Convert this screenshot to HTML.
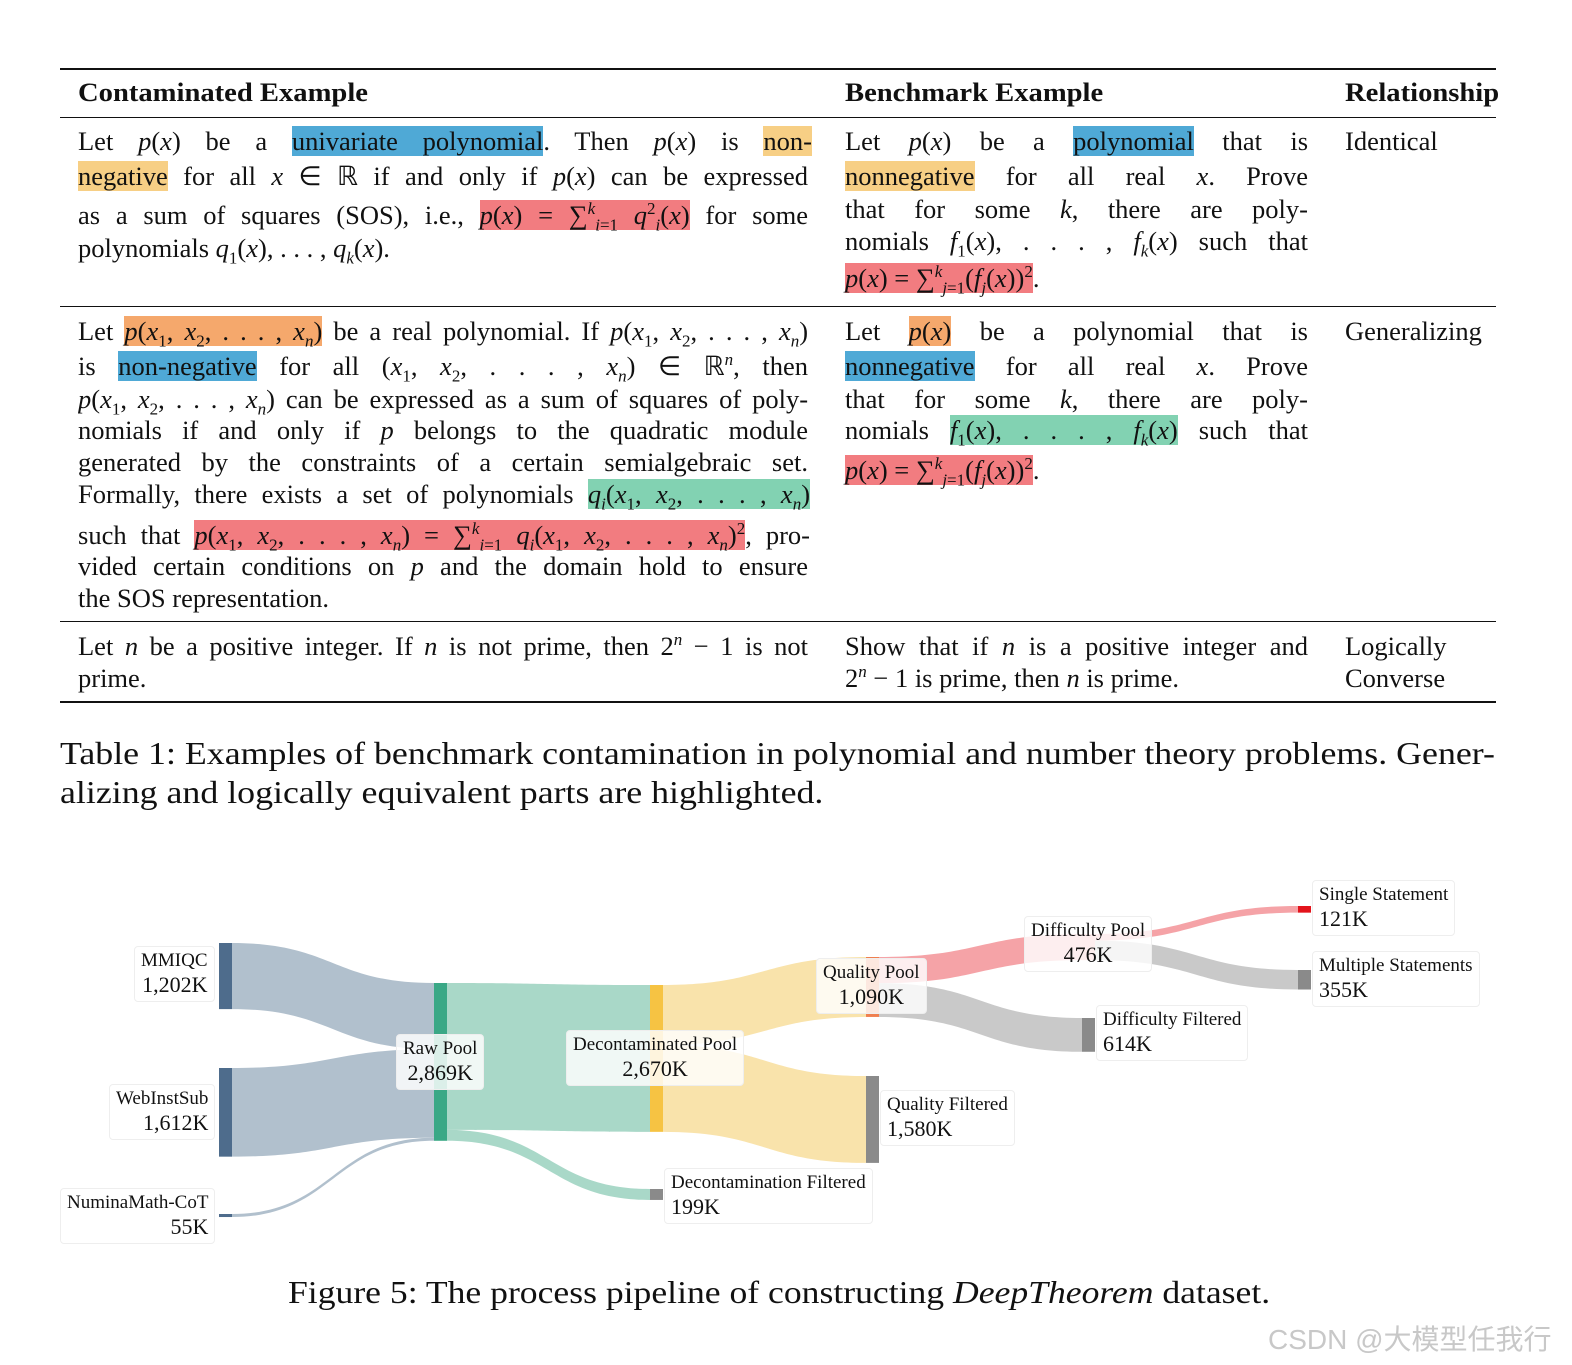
<!DOCTYPE html>
<html><head><meta charset="utf-8">
<style>
body{margin:0;background:#fff;}
#page{position:relative;width:1572px;height:1365px;overflow:hidden;background:#fff;font-family:"Liberation Serif",serif;color:#111;}
.rule{position:absolute;left:60px;width:1436px;background:#111;}
.ln{position:absolute;font-size:26.5px;line-height:34px;height:34px;white-space:nowrap;}
.j{text-align:justify;text-align-last:justify;white-space:normal;overflow:hidden;}
.h{position:absolute;font-size:26px;font-weight:bold;line-height:34px;transform:scaleX(1.1);transform-origin:left;white-space:nowrap;}
i{font-style:italic;}
.b{background:#4fa9d6;} .y{background:#f7cf85;} .r{background:#f27c80;} .o{background:#f5a86c;} .g{background:#82d2b2;}
sub,sup{font-size:17px;line-height:0;}
.cap{position:absolute;font-size:32px;line-height:40px;white-space:nowrap;transform-origin:left;}
.lab{position:absolute;background:rgba(255,255,255,0.82);border:1px solid #eee;border-radius:4px;font-size:19px;line-height:24px;padding:2px 6px;white-space:nowrap;}
.lab b{font-weight:normal;font-size:22px;}
</style></head>
<body>
<div id="page">
<div class="rule" style="top:68px;height:2px"></div>
<div class="rule" style="top:117px;height:1px"></div>
<div class="rule" style="top:306px;height:1px"></div>
<div class="rule" style="top:621px;height:1px"></div>
<div class="rule" style="top:701px;height:2px"></div>

<div class="h" style="left:78px;top:76px">Contaminated Example</div>
<div class="h" style="left:845px;top:76px">Benchmark Example</div>
<div class="h" style="left:1345px;top:76px">Relationship</div>

<!-- Row 1 -->
<div>
<div class="ln j" style="left:78px;top:124px;width:734px">Let <i>p</i>(<i>x</i>) be a <span class="b">univariate polynomial</span>. Then <i>p</i>(<i>x</i>) is <span class="y">non-</span></div>
<div class="ln j" style="left:78px;top:159px;width:730px"><span class="y">negative</span> for all <i>x</i> ∈ ℝ if and only if <i>p</i>(<i>x</i>) can be expressed</div>
<div class="ln j" style="left:78px;top:198px;width:730px">as a sum of squares (SOS), i.e., <span class="r"><i>p</i>(<i>x</i>) = ∑<sup><i>k</i></sup><sub><i>i</i>=1</sub> <i>q</i><sup>2</sup><sub><i>i</i></sub>(<i>x</i>)</span> for some</div>
<div class="ln" style="left:78px;top:231px">polynomials <i>q</i><sub>1</sub>(<i>x</i>), . . . , <i>q<sub>k</sub></i>(<i>x</i>).</div>
</div>
<div>
<div class="ln j" style="left:845px;top:124px;width:463px">Let <i>p</i>(<i>x</i>) be a <span class="b">polynomial</span> that is</div>
<div class="ln j" style="left:845px;top:159px;width:463px"><span class="y">nonnegative</span> for all real <i>x</i>. Prove</div>
<div class="ln j" style="left:845px;top:192px;width:463px">that for some <i>k</i>, there are poly-</div>
<div class="ln j" style="left:845px;top:224px;width:463px">nomials <i>f</i><sub>1</sub>(<i>x</i>), . . . , <i>f<sub>k</sub></i>(<i>x</i>) such that</div>
<div class="ln" style="left:845px;top:261px"><span class="r"><i>p</i>(<i>x</i>) = ∑<sup><i>k</i></sup><sub><i>j</i>=1</sub>(<i>f<sub>j</sub></i>(<i>x</i>))<sup>2</sup></span>.</div>
</div>
<div class="ln" style="left:1345px;top:124px">Identical</div>

<!-- Row 2 -->
<div>
<div class="ln j" style="left:78px;top:314px;width:730px">Let <span class="o"><i>p</i>(<i>x</i><sub>1</sub>, <i>x</i><sub>2</sub>, . . . , <i>x<sub>n</sub></i>)</span> be a real polynomial. If <i>p</i>(<i>x</i><sub>1</sub>, <i>x</i><sub>2</sub>, . . . , <i>x<sub>n</sub></i>)</div>
<div class="ln j" style="left:78px;top:349px;width:730px">is <span class="b">non-negative</span> for all (<i>x</i><sub>1</sub>, <i>x</i><sub>2</sub>, . . . , <i>x<sub>n</sub></i>) ∈ ℝ<sup><i>n</i></sup>, then</div>
<div class="ln j" style="left:78px;top:382px;width:730px"><i>p</i>(<i>x</i><sub>1</sub>, <i>x</i><sub>2</sub>, . . . , <i>x<sub>n</sub></i>) can be expressed as a sum of squares of poly-</div>
<div class="ln j" style="left:78px;top:413px;width:730px">nomials if and only if <i>p</i> belongs to the quadratic module</div>
<div class="ln j" style="left:78px;top:445px;width:730px">generated by the constraints of a certain semialgebraic set.</div>
<div class="ln j" style="left:78px;top:477px;width:732px">Formally, there exists a set of polynomials <span class="g"><i>q<sub>i</sub></i>(<i>x</i><sub>1</sub>, <i>x</i><sub>2</sub>, . . . , <i>x<sub>n</sub></i>)</span></div>
<div class="ln j" style="left:78px;top:518px;width:732px">such that <span class="r"><i>p</i>(<i>x</i><sub>1</sub>, <i>x</i><sub>2</sub>, . . . , <i>x<sub>n</sub></i>) = ∑<sup><i>k</i></sup><sub><i>i</i>=1</sub> <i>q<sub>i</sub></i>(<i>x</i><sub>1</sub>, <i>x</i><sub>2</sub>, . . . , <i>x<sub>n</sub></i>)<sup>2</sup></span>, pro-</div>
<div class="ln j" style="left:78px;top:549px;width:730px">vided certain conditions on <i>p</i> and the domain hold to ensure</div>
<div class="ln" style="left:78px;top:581px">the SOS representation.</div>
</div>
<div>
<div class="ln j" style="left:845px;top:314px;width:463px">Let <span class="o"><i>p</i>(<i>x</i>)</span> be a polynomial that is</div>
<div class="ln j" style="left:845px;top:349px;width:463px"><span class="b">nonnegative</span> for all real <i>x</i>. Prove</div>
<div class="ln j" style="left:845px;top:382px;width:463px">that for some <i>k</i>, there are poly-</div>
<div class="ln j" style="left:845px;top:413px;width:463px">nomials <span class="g"><i>f</i><sub>1</sub>(<i>x</i>), . . . , <i>f<sub>k</sub></i>(<i>x</i>)</span> such that</div>
<div class="ln" style="left:845px;top:453px"><span class="r"><i>p</i>(<i>x</i>) = ∑<sup><i>k</i></sup><sub><i>j</i>=1</sub>(<i>f<sub>j</sub></i>(<i>x</i>))<sup>2</sup></span>.</div>
</div>
<div class="ln" style="left:1345px;top:314px">Generalizing</div>

<!-- Row 3 -->
<div>
<div class="ln j" style="left:78px;top:629px;width:730px">Let <i>n</i> be a positive integer. If <i>n</i> is not prime, then 2<sup><i>n</i></sup> − 1 is not</div>
<div class="ln" style="left:78px;top:661px">prime.</div>
</div>
<div>
<div class="ln j" style="left:845px;top:629px;width:463px">Show that if <i>n</i> is a positive integer and</div>
<div class="ln" style="left:845px;top:661px">2<sup><i>n</i></sup> − 1 is prime, then <i>n</i> is prime.</div>
</div>
<div>
<div class="ln" style="left:1345px;top:629px">Logically</div>
<div class="ln" style="left:1345px;top:661px">Converse</div>
</div>

<div class="cap" style="left:60px;top:733px;transform:scaleX(1.12)">Table 1: Examples of benchmark contamination in polynomial and number theory problems. Gener-</div>
<div class="cap" style="left:60px;top:772px;transform:scaleX(1.12)">alizing and logically equivalent parts are highlighted.</div>

<svg id="sankey" width="1572" height="1365" style="position:absolute;left:0;top:0"></svg>
<div id="labels"></div>

<div class="cap" style="left:288px;top:1272px;transform:scaleX(1.113)">Figure 5: The process pipeline of constructing <i>DeepTheorem</i> dataset.</div>
<div style="position:absolute;left:1268px;top:1318px;font-family:'Liberation Sans','Noto Sans CJK SC',sans-serif;font-size:28px;color:#c8c8c8;white-space:nowrap">CSDN @大模型任我行</div>
</div>

<script>
// Sankey data
const nodeNames = ["MMIQC","WebInstSub","NuminaMath-CoT","Raw Pool","Decontaminated Pool","Decontamination Filtered","Quality Pool","Quality Filtered","Difficulty Pool","Difficulty Filtered","Single Statement","Multiple Statements"];
const nodeValues = [1202,1612,55,2869,2670,199,1090,1580,476,614,121,355];
const linkSources = [0,1,2,3,3,4,4,6,6,8,8];
const linkTargets = [3,3,3,4,5,6,7,8,9,10,11];
const linkValues = [1202,1612,55,2670,199,1090,1580,476,614,121,355];

// layout (not data)
const colX = [219,219,219,434,650,650,866,866,1082,1082,1298,1298];
const nodeTop = [943,1068,1214,983,985,1189,957,1076,934,1018,906,970];
const nodeColor = ["#4e6c8c","#4e6c8c","#4e6c8c","#3aa886","#f6c343","#8a8a8a","#ef7f4f","#8a8a8a","#f49a9e","#8a8a8a","#e3141c","#8a8a8a"];
const linkColor = ["#b1c0cd","#b1c0cd","#b1c0cd","#a9d8c8","#a9d8c8","#f9e3ab","#f9e3ab","#f5a3a7","#c9c9c9","#f5a3a7","#c9c9c9"];
const scaleV = v => v * 0.055;
const NW = 13;
const svg = document.getElementById('sankey');
const NS = "http://www.w3.org/2000/svg";
const outOff = nodeTop.slice(), inOff = nodeTop.slice();
linkValues.forEach((v,i)=>{
  const s=linkSources[i], t=linkTargets[i], h=scaleV(v);
  const x0=colX[s]+NW, x1=colX[t], y0=outOff[s], y1=inOff[t];
  outOff[s]+=h; inOff[t]+=h;
  const mx=(x0+x1)/2;
  const p=document.createElementNS(NS,'path');
  p.setAttribute('d',`M${x0},${y0} C${mx},${y0} ${mx},${y1} ${x1},${y1} L${x1},${y1+h} C${mx},${y1+h} ${mx},${y0+h} ${x0},${y0+h} Z`);
  p.setAttribute('fill',linkColor[i]);
  
  
  svg.appendChild(p);
});
nodeValues.forEach((v,i)=>{
  const r=document.createElementNS(NS,'rect');
  r.setAttribute('x',colX[i]); r.setAttribute('y',nodeTop[i]);
  r.setAttribute('width',NW); r.setAttribute('height',Math.max(3,scaleV(v)));
  r.setAttribute('fill',nodeColor[i]);
  
  
  svg.appendChild(r);
});
// labels: [left, top, align]
const labPos = [[134,946,'right'],[109,1084,'right'],[60,1188,'right'],[396,1034,'center'],[566,1030,'center'],[664,1168,'left'],[816,958,'center'],[880,1090,'left'],[1024,916,'center'],[1096,1005,'left'],[1312,880,'left'],[1312,951,'left']];
const fmt = v => v.toLocaleString('en-US')+'K';
const labs = document.getElementById('labels');
nodeNames.forEach((n,i)=>{
  const d=document.createElement('div');
  d.className='lab';
  d.style.left=labPos[i][0]+'px'; d.style.top=labPos[i][1]+'px'; d.style.textAlign=labPos[i][2];
  d.innerHTML=n+'<br><b>'+fmt(nodeValues[i])+'</b>';
  
  
  labs.appendChild(d);
});
</script>
</body></html>
